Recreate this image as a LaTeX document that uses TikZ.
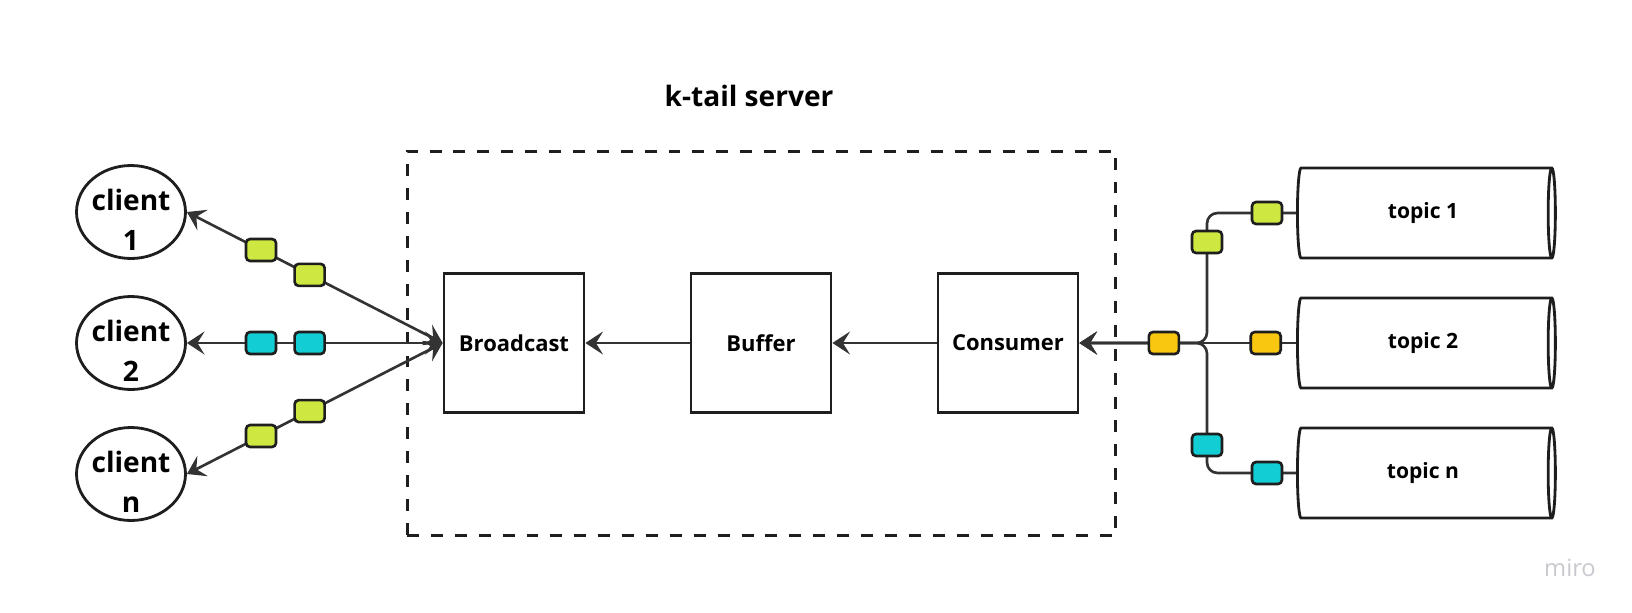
\documentclass[tikz,border=0pt]{standalone}
\usepackage{fontspec}
\setmainfont{Open Sans}
\usetikzlibrary{positioning,arrows.meta,shapes.geometric}
\definecolor{ink}{HTML}{333333}
\definecolor{edge}{HTML}{1E1E1E}
\definecolor{lime}{HTML}{CEE741}
\definecolor{aqua}{HTML}{12CDD4}
\definecolor{amber}{HTML}{FAC710}
\definecolor{wmark}{HTML}{C8C8CE}
\tikzset{
  block/.style  = {rectangle,draw=edge,line width=1.6pt,minimum width=2.8cm,
                   minimum height=2.78cm,font=\fontsize{12.5}{15}\selectfont\bfseries},
  client/.style = {ellipse,draw=edge,line width=1.6pt,minimum width=2.18cm,
                   minimum height=1.86cm,inner sep=0pt,
                   label={[align=center,yshift=-4.3pt,
                   font=\fontsize{16}{23}\selectfont\bfseries]center:{#1}}},
  topic/.style  = {cylinder,draw=edge,line width=1.6pt,shape aspect=0.22,
                   minimum height=5.16cm,minimum width=1.8cm,
                   font=\fontsize{12}{14}\selectfont\bfseries},
  msg/.style    = {rectangle,rounded corners=2.3pt,draw=edge,line width=1.5pt,
                   minimum width=0.6cm,minimum height=0.44cm,inner sep=0pt},
  server/.style = {draw=edge,line width=1.7pt,dash pattern=on 6.8pt off 6.8pt,
                   minimum width=14.18cm,minimum height=7.7cm},
  flow/.style   = {draw=ink,line width=1.5pt},
  >={Stealth[length=10pt,width=13pt,inset=4pt]}
}

\begin{document}
\begin{tikzpicture}[x=0.02cm,y=-0.02cm]
    \useasboundingbox (0,0) rectangle (1632,612);

    % server frame and title
    \node[server] (srv) at (761.5,343.5) {};
    \node[font=\fontsize{16}{19}\selectfont\bfseries] (title) at (749,96) {k-tail server};

    % pipeline inside the server
    \node[block] (bcast) at (514,343) {Broadcast};
    \node[block] (buf)   at (761,343) {Buffer};
    \node[block] (cons)  at (1008,343) {Consumer};
    \draw[flow,->] (buf.west) -- (bcast.east);
    \draw[flow,->] (cons.west) -- (buf.east);

    % clients
    \node[client={client\\1}] (cl1) at (131,212) {};
    \node[client={client\\2}] (cl2) at (131,343) {};
    \node[client={client\\n}] (cln) at (131,474) {};

    \draw[flow,<->] (bcast.west) --
      node[msg,fill=lime,pos=.52] (m1a) {}
      node[msg,fill=lime,pos=.71] (m1b) {} (cl1.east);
    \draw[flow,<->] (bcast.west) --
      node[msg,fill=aqua,pos=.52] (m2a) {}
      node[msg,fill=aqua,pos=.71] (m2b) {} (cl2.east);
    \draw[flow,<->] (bcast.west) --
      node[msg,fill=lime,pos=.52] (mna) {}
      node[msg,fill=lime,pos=.71] (mnb) {} (cln.east);

    % topics
    \node[topic] (tp1) at (1423,213) {topic 1};
    \node[topic] (tp2) at (1423,343) {topic 2};
    \node[topic] (tpn) at (1423,473) {topic n};
    \coordinate (j) at (1207,343);

    \draw[flow,->,rounded corners=6pt] (tp1.west) -| (j) -- (cons.east);
    \draw[flow,->,rounded corners=6pt] (tpn.west) -| (j) -- (cons.east);
    \draw[flow,->] (tp2.west) --
      node[msg,fill=amber,pos=.14] (t2a) {}
      node[msg,fill=amber,pos=.61] (t2b) {} (cons.east);
    \node[msg,fill=lime] (t1a) at (1267,213) {};
    \node[msg,fill=lime] (t1b) at (1207,242) {};
    \node[msg,fill=aqua] (tna) at (1207,445) {};
    \node[msg,fill=aqua] (tnb) at (1267,473) {};

    % watermark
    \node[text=wmark,font=\fontsize{13.5}{16}\selectfont] (wm) at (1570,568) {miro};
\end{tikzpicture}
\end{document}
